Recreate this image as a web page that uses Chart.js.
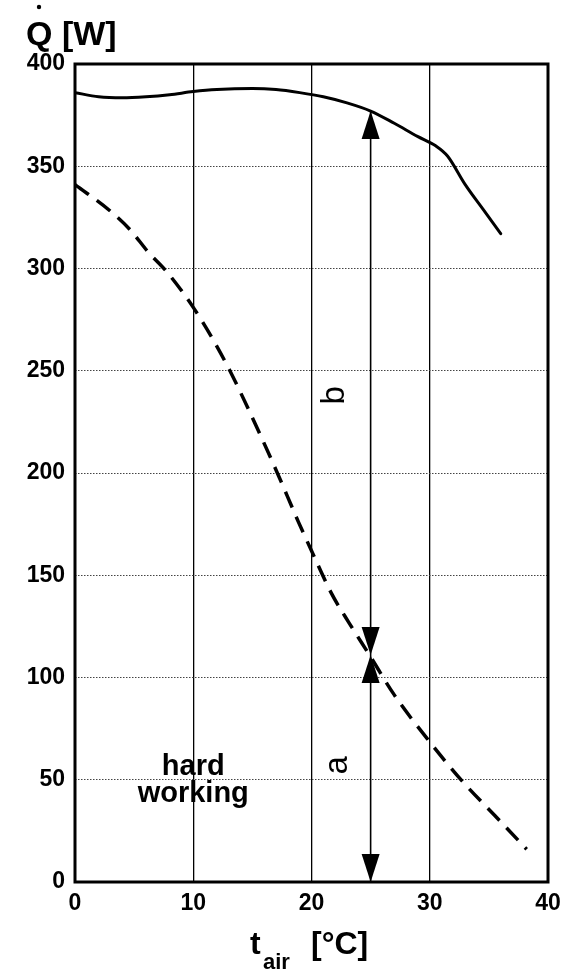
<!DOCTYPE html>
<html><head><meta charset="utf-8">
<script src="https://cdn.jsdelivr.net/npm/chart.js@4/dist/chart.umd.min.js"></script>
<style>html,body{margin:0;padding:0;background:#fff;}#wrap{width:575px;height:973px;position:relative;}</style>
</head><body><div id="wrap"><canvas id="c" width="575" height="973"></canvas></div>
<script>
// ---- data ----
const solidT = [0, 2, 4, 6, 8, 10, 12, 15, 17, 19, 21, 23, 25, 27, 29, 30.5, 31.5, 33, 34.5, 36];
const solidQ = [386, 384, 383.5, 384, 385, 386.5, 387.5, 388, 387.5, 386, 384, 381, 377, 371, 364.5, 360, 355, 341, 329, 317];
const dashedT = [0, 3, 4.65, 6.2, 7.75, 10, 11.7, 13.1, 14.6, 17, 18.9, 20, 21.7, 23.2, 24.9, 27, 30, 32.8, 35.5, 38.2];
const dashedQ = [341, 328, 319, 308, 298.5, 281, 265, 250, 232, 201.5, 176, 162, 141, 126.5, 111, 91.5, 68.5, 49, 32.5, 16];
const xTickValues = [0, 10, 20, 30, 40];
const yTickValues = [0, 50, 100, 150, 200, 250, 300, 350, 400];
const arrowT = 25;
const arrowLevels = [0, 111, 377];
const noteLines = ['hard', 'working'];
const labelA = 'a', labelB = 'b';
const yTitle = 'Q [W]';
const xTitleMain = 't', xTitleSub = 'air', xTitleUnit = '[°C]';

const FONT = '"Liberation Sans", Arial, Helvetica, sans-serif';

const zip = (a, b) => a.map((v, i) => ({x: v, y: b[i]}));

const decor = {
  id: 'decor',
  afterDatasetsDraw(chart) {
    const {ctx, scales: {x, y}, chartArea: a} = chart;
    ctx.save();
    // frame
    ctx.strokeStyle = '#000'; ctx.lineWidth = 3;
    ctx.strokeRect(a.left, a.top, a.right - a.left, a.bottom - a.top);
    // dimension arrows
    const px = x.getPixelForValue(arrowT);
    const p = arrowLevels.map(v => y.getPixelForValue(v));
    ctx.lineWidth = 1.6;
    ctx.beginPath(); ctx.moveTo(px, p[0]); ctx.lineTo(px, p[2]); ctx.stroke();
    const hw = 9, hl = 28;
    const tri = (tipY, dir) => { // dir=1 points down, -1 points up
      ctx.beginPath();
      ctx.moveTo(px, tipY);
      ctx.lineTo(px - hw, tipY - dir * hl);
      ctx.lineTo(px + hw, tipY - dir * hl);
      ctx.closePath(); ctx.fillStyle = '#000'; ctx.fill();
    };
    tri(p[0], 1); tri(p[1], 1); tri(p[1], -1); tri(p[2], -1);
    // rotated labels
    ctx.font = '33px ' + FONT; ctx.textAlign = 'center'; ctx.textBaseline = 'middle';
    const rot = (txt, tv, qv) => {
      ctx.save();
      ctx.translate(x.getPixelForValue(tv), y.getPixelForValue(qv));
      ctx.rotate(-Math.PI / 2);
      ctx.fillText(txt, 0, 0);
      ctx.restore();
    };
    rot(labelB, 22.0, 238);
    rot(labelA, 22.2, 57);
    // note
    ctx.font = 'bold 29px ' + FONT; ctx.textBaseline = 'alphabetic';
    ctx.fillText(noteLines[0], x.getPixelForValue(10), y.getPixelForValue(52.3));
    ctx.fillText(noteLines[1], x.getPixelForValue(10), y.getPixelForValue(39.1));
    ctx.restore();
  },
  afterDraw(chart) {
    const {ctx} = chart;
    ctx.save();
    ctx.fillStyle = '#000';
    ctx.textAlign = 'left'; ctx.textBaseline = 'alphabetic';
    // y title with dot over Q
    ctx.font = 'bold 34px ' + FONT;
    ctx.fillText(yTitle, 26, 45);
    ctx.beginPath(); ctx.arc(39, 7, 2.2, 0, Math.PI * 2); ctx.fill();
    // x title
    ctx.font = 'bold 32px ' + FONT;
    ctx.fillText(xTitleMain, 250, 954);
    ctx.font = 'bold 22px ' + FONT;
    ctx.fillText(xTitleSub, 263, 969);
    ctx.font = 'bold 32px ' + FONT;
    ctx.fillText(xTitleUnit, 311, 954);
    ctx.restore();
  }
};

new Chart(document.getElementById('c'), {
  type: 'scatter',
  data: {
    datasets: [
      {data: zip(solidT, solidQ), showLine: true, borderColor: '#000', borderWidth: 3,
       pointRadius: 0, cubicInterpolationMode: 'monotone', borderJoinStyle: 'round', borderCapStyle: 'round'},
      {data: zip(dashedT, dashedQ), showLine: true, borderColor: '#000', borderWidth: 3.5,
       pointRadius: 0, cubicInterpolationMode: 'monotone', borderDash: [17, 10], borderCapStyle: 'butt'}
    ]
  },
  options: {
    responsive: false, animation: false, devicePixelRatio: 1,
    layout: {padding: {left: 0, right: 27, top: 64, bottom: 0}},
    plugins: {legend: {display: false}, tooltip: {enabled: false}},
    scales: {
      x: {
        type: 'linear', min: 0, max: 40,
        afterBuildTicks: s => { s.ticks = xTickValues.map(v => ({value: v})); },
        afterFit: s => { s.height = 91; },
        ticks: {color: '#000', font: {family: FONT, size: 23, weight: 'bold'}, padding: 8, maxRotation: 0},
        grid: {drawTicks: false, lineWidth: 1.3,
               color: c => (c.tick && (c.tick.value === 0 || c.tick.value === 40)) ? 'rgba(0,0,0,0)' : '#000'},
        border: {display: false}
      },
      y: {
        type: 'linear', min: 0, max: 400,
        afterBuildTicks: s => { s.ticks = yTickValues.map(v => ({value: v})); },
        afterFit: s => { s.width = 75; },
        ticks: {color: '#000', font: {family: FONT, size: 23, weight: 'bold'}, padding: 10},
        grid: {drawTicks: false, lineWidth: 1,
               color: c => (c.tick && (c.tick.value === 0 || c.tick.value === 400)) ? 'rgba(0,0,0,0)' : '#444'},
        border: {display: false, dash: [1.5, 1.5]}
      }
    }
  },
  plugins: [decor]
});
</script></body></html>
